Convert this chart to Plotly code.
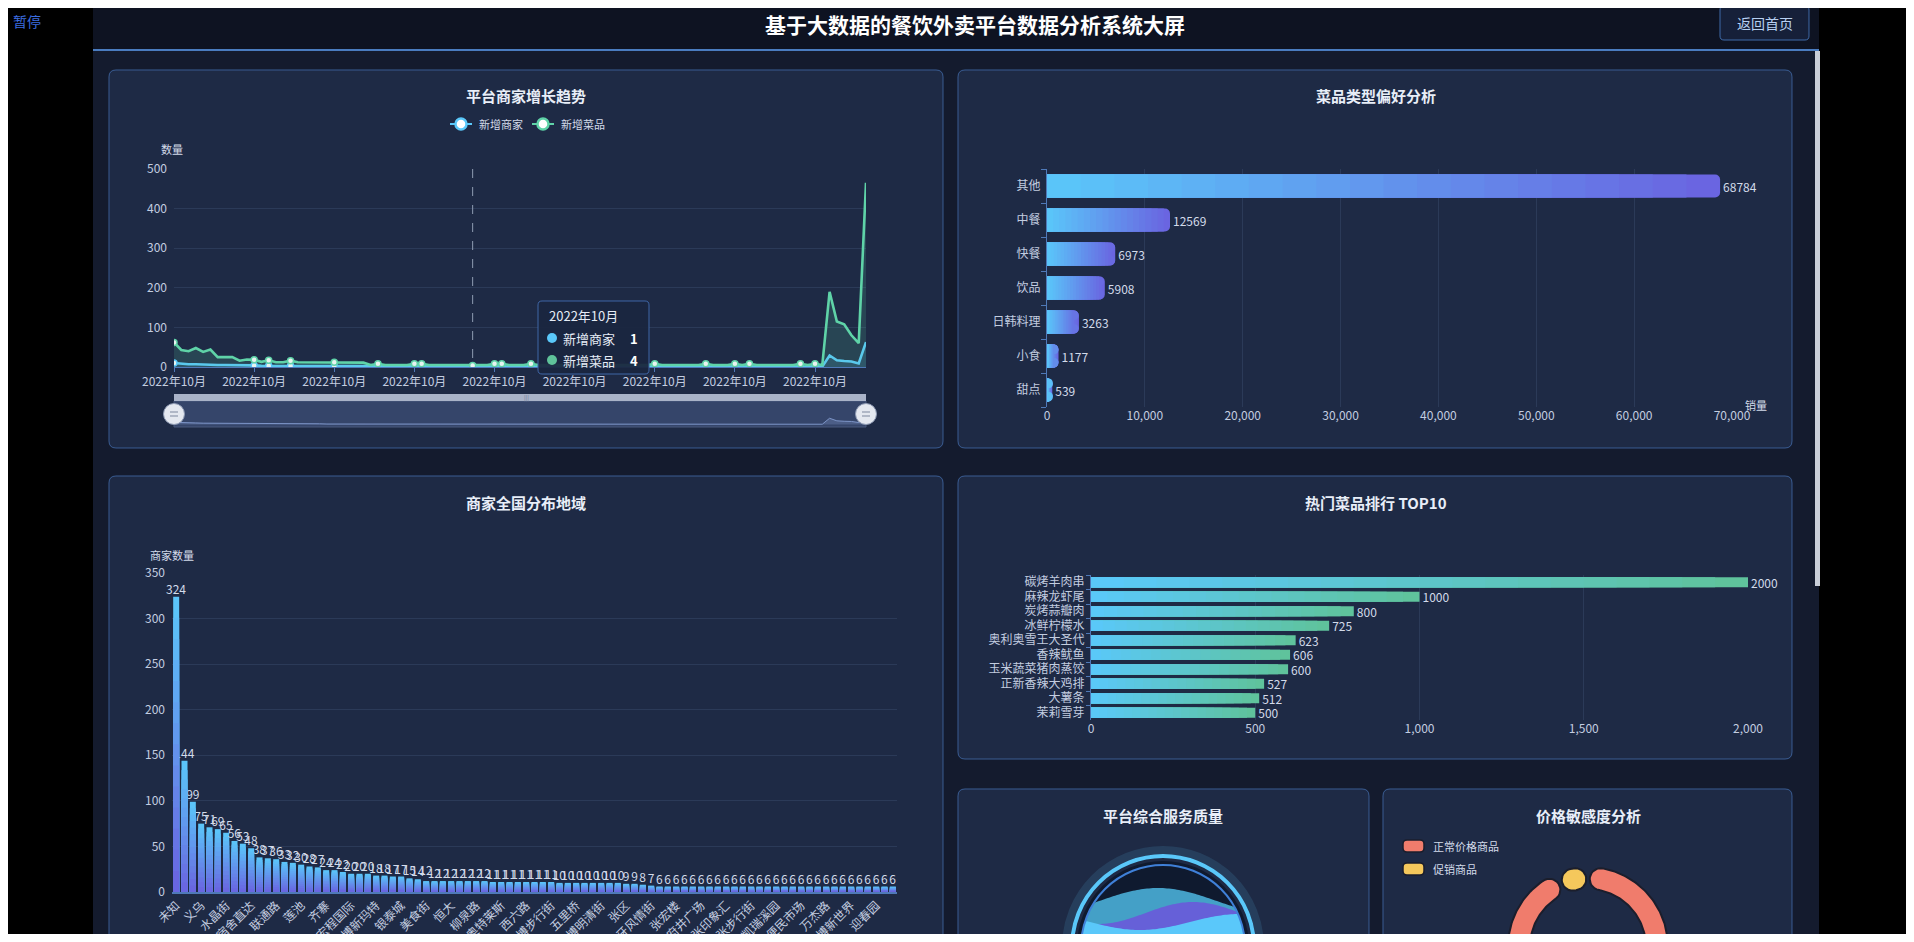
import math
import plotly.graph_objects as go

# page is drawn in 1914x942 screen pixels; the figure sits 8px in from the page corner
SCREEN_W, SCREEN_H = 1914, 942
OFF = 8
W, H = SCREEN_W - OFF, SCREEN_H - 2 * OFF
FONT = "Noto Sans CJK SC, Noto Sans, sans-serif"

# ---------------- data ----------------
page_title = "基于大数据的餐饮外卖平台数据分析系统大屏"
trend_title = "平台商家增长趋势"
trend_series = ["新增商家", "新增菜品"]
trend_tick_text = "2022年10月"
new_merchants = [10, 8, 7, 7, 6, 6, 5, 5, 5, 4, 4, 4, 3, 3, 3, 3, 3, 3, 3, 3,
                 3, 2, 2, 2, 2, 2, 2, 2, 2, 2, 2, 2, 2, 2, 2, 2, 2, 2, 1, 1,
                 1, 1, 1, 1, 1, 1, 1, 1, 1, 1, 1, 1, 1, 1, 1, 1, 1, 1, 1, 1,
                 1, 1, 1, 1, 1, 1, 1, 1, 1, 1, 1, 1, 1, 1, 1, 1, 1, 1, 1, 1,
                 1, 1, 1, 1, 1, 1, 1, 1, 1, 1, 29, 17, 15, 14, 9, 63]
new_dishes = [62, 43, 40, 48, 38, 44, 25, 25, 25, 16, 19, 18, 13, 17, 12, 12, 16, 12, 12, 12,
              12, 12, 12, 12, 12, 11, 11, 5, 8, 5, 5, 5, 5, 8, 8, 5, 5, 5, 5, 5,
              5, 4, 5, 5, 8, 8, 5, 5, 5, 8, 5, 5, 5, 5, 5, 5, 5, 5, 5, 5,
              5, 5, 5, 5, 5, 5, 8, 5, 5, 5, 5, 5, 5, 8, 5, 5, 5, 8, 5, 8,
              5, 5, 5, 5, 5, 5, 8, 5, 8, 5, 190, 115, 108, 80, 60, 465]

dishtype_title = "菜品类型偏好分析"
dishtype_cats = ["其他", "中餐", "快餐", "饮品", "日韩料理", "小食", "甜点"]
dishtype_vals = [68784, 12569, 6973, 5908, 3263, 1177, 539]

region_title = "商家全国分布地域"
region_tick_labels = ["未知", "义乌", "水晶街", "宿舍直达", "联通路", "莲池", "齐寨", "宏程国际",
                      "淄博新玛特", "银泰城", "美食街", "恒大", "柳泉路", "淄博奥特莱斯", "西六路",
                      "淄博步行街", "五里桥", "淄博明清街", "张区", "淄博西班牙风情街", "张宏楼",
                      "张店王府井广场", "张印象汇", "张步行街", "凯瑞溪园", "张店便民市场", "万杰路",
                      "淄博新世界", "迎春园"]
region_vals = [324, 144, 99, 75, 71, 69, 65, 56, 53, 48,
               38, 37, 36, 33, 32, 30, 28, 27, 24, 24,
               22, 20, 20, 20, 18, 18, 17, 17, 15, 14,
               12, 12, 12, 12, 12, 12, 12, 12, 11, 11,
               11, 11, 11, 11, 11, 11, 10, 10, 10, 10,
               10, 10, 10, 10, 9, 9, 8, 7, 6, 6,
               6, 6, 6, 6, 6, 6, 6, 6, 6, 6,
               6, 6, 6, 6, 6, 6, 6, 6, 6, 6,
               6, 6, 6, 6, 6, 6, 6]

top10_title = "热门菜品排行 TOP10"
top10_names = ["碳烤羊肉串", "麻辣龙虾尾", "炭烤蒜瓣肉", "冰鲜柠檬水", "奥利奥雪王大圣代",
               "香辣鱿鱼", "玉米蔬菜猪肉蒸饺", "正新香辣大鸡排", "大薯条", "茉莉雪芽"]
top10_vals = [2000, 1000, 800, 725, 623, 606, 600, 527, 512, 500]

service_title = "平台综合服务质量"
service_score = 4.63

price_title = "价格敏感度分析"
price_cats = ["正常价格商品", "促销商品"]
price_vals = [93.5, 6.5]

# ---------------- styling ----------------
BODY = "#141b2e"
HEADER = "#0e1322"
PANEL = "#1e2a45"
PANEL_LINE = "#3a5c92"
GRID = "#2b3a58"
AXL = "#4f79b8"
TICK = "#c3cde0"
LABEL = "#d3dbea"
BLUE = "#5ac8fa"
GREEN = "#5fd3a8"
PURPLE = "#6a62e0"
TEAL = "#5fc39a"
SALMON = "#f07c6c"
YELLOW = "#f5c85c"


def px(x):
    return (x - OFF) / W


def py(y):
    return 1 - (y - OFF) / H


def dom_x(a, b):
    return [px(a), px(b)]


def dom_y(a, b):
    return [py(b), py(a)]


def mix(c1, c2, t):
    a = [int(c1[i:i + 2], 16) for i in (1, 3, 5)]
    b = [int(c2[i:i + 2], 16) for i in (1, 3, 5)]
    return "rgb(%d,%d,%d)" % tuple(round(a[j] + (b[j] - a[j]) * t) for j in range(3))


shapes = []
annotations = []


def rect(x0, y0, x1, y1, fill, line=None, lw=0, layer="below"):
    shapes.append(dict(type="rect", xref="paper", yref="paper", x0=px(x0), x1=px(x1),
                       y0=py(y1), y1=py(y0), fillcolor=fill,
                       line=dict(color=line or fill, width=lw), layer=layer))


def rrect(x0, y0, x1, y1, r, fill, line, lw, layer="below"):
    def P(x, y):
        return f"{px(x):.5f},{py(y):.5f}"
    path = (f"M{P(x0 + r, y0)} L{P(x1 - r, y0)} Q{P(x1, y0)} {P(x1, y0 + r)} "
            f"L{P(x1, y1 - r)} Q{P(x1, y1)} {P(x1 - r, y1)} L{P(x0 + r, y1)} "
            f"Q{P(x0, y1)} {P(x0, y1 - r)} L{P(x0, y0 + r)} Q{P(x0, y0)} {P(x0 + r, y0)} Z")
    shapes.append(dict(type="path", xref="paper", yref="paper", path=path,
                       fillcolor=fill, line=dict(color=line, width=lw), layer=layer))


def circle(cx, cy, r, fill="rgba(0,0,0,0)", line="rgba(0,0,0,0)", lw=0, layer="below"):
    shapes.append(dict(type="circle", xref="paper", yref="paper", x0=px(cx - r), x1=px(cx + r),
                       y0=py(cy + r), y1=py(cy - r), fillcolor=fill,
                       line=dict(color=line, width=lw), layer=layer))


def poly_path(pts, fill, layer="below"):
    path = "M" + " L".join(f"{px(x):.5f},{py(y):.5f}" for x, y in pts) + " Z"
    shapes.append(dict(type="path", xref="paper", yref="paper", path=path,
                       fillcolor=fill, line=dict(width=0), layer=layer))


def text(x, y, s, size=12, color=TICK, bold=False, xanchor="center", yanchor="middle"):
    annotations.append(dict(xref="paper", yref="paper", x=px(x), y=py(y),
                            text=f"<b>{s}</b>" if bold else s, showarrow=False,
                            font=dict(family=FONT, size=size, color=color),
                            xanchor=xanchor, yanchor=yanchor))


# ---------------- page frame ----------------
rect(93, 0, 1819, 942, BODY)
rect(93, 0, 1819, 50, HEADER)
rect(93, 49, 1819, 51, "#4a7cc0")
rect(1815, 51, 1820, 586, "#c9ced8")
text(975, 24, page_title, size=21, color="#ffffff", bold=True)
rrect(1720, 6, 1809, 40, 4, "#162039", "#3f6aa8", 1)
text(1765, 23, "返回首页", size=14, color="#b7d0f2")
text(27, 21, "暂停", size=14, color="#3c6ee0")

panels = [(109, 70, 943, 448), (958, 70, 1792, 448), (109, 476, 943, 1100),
          (958, 476, 1792, 759), (958, 789, 1369, 1100), (1383, 789, 1792, 1100)]
for (a, b, c, d) in panels:
    rrect(a, b, c, d, 7, PANEL, PANEL_LINE, 1)

text(526, 95, trend_title, size=15, color="#e8eef8", bold=True)
text(1376, 95, dishtype_title, size=15, color="#e8eef8", bold=True)
text(526, 502, region_title, size=15, color="#e8eef8", bold=True)
text(1376, 502, top10_title, size=15, color="#e8eef8", bold=True)
text(1163, 815, service_title, size=15, color="#e8eef8", bold=True)
text(1588, 815, price_title, size=15, color="#e8eef8", bold=True)

fig = go.Figure()
tickfont = dict(family=FONT, size=12, color=TICK)

# ---------------- panel 1: line chart ----------------
n_pts = len(new_dishes)
xs = list(range(n_pts))
series_cols = [BLUE, GREEN]
series_fill = ["rgba(90,200,250,0.14)", "rgba(95,211,168,0.16)"]
for name, vals, col, fcol in zip(trend_series, [new_merchants, new_dishes], series_cols, series_fill):
    fig.add_trace(go.Scatter(x=xs, y=vals, mode="lines", name=name,
                             line=dict(color=col, width=2.6), fill="tozeroy", fillcolor=fcol,
                             xaxis="x", yaxis="y", hoverinfo="skip"))
marker_idx = [0, 11, 13, 16, 22, 28, 33, 34, 41, 44, 45, 49, 66, 73, 77, 79, 86, 88]
for vals, col in zip([new_merchants, new_dishes], series_cols):
    fig.add_trace(go.Scatter(x=marker_idx, y=[vals[i] for i in marker_idx], mode="markers",
                             marker=dict(size=6, color="#e8f4f0", line=dict(color=col, width=1.5)),
                             xaxis="x", yaxis="y", hoverinfo="skip", showlegend=False))
tick_pos = list(range(0, n_pts, 11))

# legend (manual)
for (ix, tx, name, col) in [(461, 477, trend_series[0], BLUE), (543, 559, trend_series[1], GREEN)]:
    shapes.append(dict(type="line", xref="paper", yref="paper", x0=px(ix - 11), x1=px(ix + 11),
                       y0=py(124), y1=py(124), line=dict(color=col, width=2), layer="above"))
    circle(ix, 124, 5.5, fill="#ffffff", line=col, lw=2.5, layer="above")
    text(tx, 124, name, size=11, color=LABEL, xanchor="left")
text(172, 149, "数量", size=11, color=LABEL)

# axis pointer + tooltip
hover_i = 41
hx = 174 + hover_i * (866 - 174) / (n_pts - 1)
shapes.append(dict(type="line", xref="paper", yref="paper", x0=px(hx), x1=px(hx),
                   y0=py(169), y1=py(367), line=dict(color="#8f9bb3", width=1, dash="dash"),
                   layer="above"))
rrect(538, 301, 649, 374, 4, "rgba(27,38,64,0.94)", "#3f66a6", 1, layer="above")
text(547, 316, trend_tick_text, size=13, color="#e6ecf6", xanchor="left")
circle(552, 338, 5, fill=BLUE, layer="above")
circle(552, 360, 5, fill=TEAL, layer="above")
text(561, 338, trend_series[0], size=13, color="#e6ecf6", xanchor="left")
text(561, 360, trend_series[1], size=13, color="#e6ecf6", xanchor="left")
text(640, 338, str(new_merchants[hover_i]), size=13, color="#ffffff", bold=True, xanchor="right")
text(640, 360, str(new_dishes[hover_i]), size=13, color="#ffffff", bold=True, xanchor="right")

# data-zoom slider
rect(174, 401, 866, 427, "#35456a", "#4a5b7e", 1)
rect(174, 394, 866, 401, "#a9b3c8")
text(526, 397, "|||", size=6, color="#6d7a96")
fig.add_trace(go.Scatter(x=xs, y=new_merchants, mode="lines", line=dict(color="#7d95c8", width=1),
                         fill="tozeroy", fillcolor="rgba(120,140,190,0.35)",
                         xaxis="x5", yaxis="y5", hoverinfo="skip", showlegend=False))
for hxp in (174, 866):
    circle(hxp, 414, 10.5, fill="#e4e8f0", line="#8d99b3", lw=1, layer="above")
    for dy in (-2, 2):
        shapes.append(dict(type="line", xref="paper", yref="paper", x0=px(hxp - 4), x1=px(hxp + 4),
                           y0=py(414 + dy), y1=py(414 + dy), line=dict(color="#7c879e", width=1),
                           layer="above"))

# ---------------- gradient bars helper ----------------
def gradient_bars(vals, cats, c_base, c_end, n, axes, orientation, width, radius=0,
                  label_vals=None):
    for k in range(n):
        frac = (n - k) / n
        col = mix(c_base, c_end, frac - 0.5 / n)
        seg = [v * frac for v in vals]
        kw = dict(marker=dict(color=col, line=dict(width=0), cornerradius=radius),
                  width=width, orientation=orientation, xaxis=axes[0], yaxis=axes[1],
                  hoverinfo="skip", showlegend=False)
        if k == 0 and label_vals is not None:
            kw.update(text=[str(v) for v in label_vals], textposition="outside",
                      textfont=dict(family=FONT, size=12, color=LABEL),
                      constraintext="none", cliponaxis=False)
        if orientation == "h":
            fig.add_trace(go.Bar(x=seg, y=cats, **kw))
        else:
            fig.add_trace(go.Bar(x=cats, y=seg, **kw))


# ---------------- panel 2 ----------------
gradient_bars(dishtype_vals, dishtype_cats, BLUE, PURPLE, 20, ("x2", "y2"), "h", 0.68,
              radius=5, label_vals=dishtype_vals)
text(1756, 405, "销量", size=11, color=LABEL)

# ---------------- panel 3 ----------------
region_x = list(range(len(region_vals)))
gradient_bars(region_vals, region_x, PURPLE, BLUE, 14, ("x3", "y3"), "v", 0.72,
              label_vals=region_vals)
text(172, 555, "商家数量", size=11, color=LABEL)

# ---------------- panel 4 ----------------
gradient_bars(top10_vals, top10_names, BLUE, TEAL, 20, ("x4", "y4"), "h", 0.7,
              label_vals=top10_vals)

# ---------------- panel 5: liquid gauge ----------------
gcx, gcy = 1163, 947
circle(gcx, gcy, 97, line="rgba(90,200,250,0.13)", lw=8)
circle(gcx, gcy, 86, fill="#0f1a2f")
ri = 82


def wave_shape(level, amp, wl, phase_x, fill):
    pts_top, pts_bot = [], []
    x = gcx - ri
    while x <= gcx + ri + 0.01:
        dx = x - gcx
        h = math.sqrt(max(ri * ri - dx * dx, 0))
        yw = level - amp * math.cos(2 * math.pi * (x - phase_x) / wl)
        pts_top.append((x, max(yw, gcy - h)))
        pts_bot.append((x, gcy + h))
        x += 2
    poly_path(pts_top + pts_bot[::-1], fill)


wave_shape(901, 13, 235, 1158, "rgba(72,168,208,0.95)")
wave_shape(913, 11, 190, 1193, "#6660d8")
wave_shape(922, -8, 200, 1140, BLUE)
circle(gcx, gcy, ri, line="#3f80d8", lw=2)
circle(gcx, gcy, 91, line=BLUE, lw=4)
text(gcx, 953, f"{service_score}分", size=38, color="#ffffff", bold=True)

# ---------------- panel 6: donut ----------------
dcx, dcy, R_out, R_in = 1588, 947, 80, 58
pad = 3.0


def ring_slice(a_start, a_end):
    rm = (R_out + R_in) / 2
    c = (R_out - R_in) / 2
    ext = a_start - a_end
    d = min(math.degrees(c / rm), ext / 2)
    b = rm * math.radians(d)
    s, e = a_start - d, a_end + d
    xs_, ys_ = [], []
    n = max(2, int((s - e) / 1.5))
    for k in range(n + 1):
        a = math.radians(s - (s - e) * k / n)
        xs_.append(dcx + R_out * math.cos(a))
        ys_.append(dcy - R_out * math.sin(a))
    a = math.radians(e)
    u = (math.cos(a), -math.sin(a))
    t = (math.sin(a), math.cos(a))
    cxp, cyp = dcx + rm * u[0], dcy + rm * u[1]
    for k in range(1, 16):
        p = math.pi * k / 16
        xs_.append(cxp + c * math.cos(p) * u[0] + b * math.sin(p) * t[0])
        ys_.append(cyp + c * math.cos(p) * u[1] + b * math.sin(p) * t[1])
    for k in range(n + 1):
        a = math.radians(e + (s - e) * k / n)
        xs_.append(dcx + R_in * math.cos(a))
        ys_.append(dcy - R_in * math.sin(a))
    a = math.radians(s)
    u = (math.cos(a), -math.sin(a))
    t = (math.sin(a), math.cos(a))
    cxp, cyp = dcx + rm * u[0], dcy + rm * u[1]
    for k in range(1, 16):
        p = math.pi * k / 16
        xs_.append(cxp - c * math.cos(p) * u[0] - b * math.sin(p) * t[0])
        ys_.append(cyp - c * math.cos(p) * u[1] - b * math.sin(p) * t[1])
    xs_.append(xs_[0])
    ys_.append(ys_[0])
    return xs_, ys_


total = sum(price_vals)
cum = 0.0
for name, v, col in zip(price_cats, price_vals, [SALMON, YELLOW]):
    a0 = 90 - 360 * cum / total - pad / 2
    a1 = 90 - 360 * (cum + v) / total + pad / 2
    sx, sy = ring_slice(a0, a1)
    fig.add_trace(go.Scatter(x=sx, y=sy, mode="lines", fill="toself", fillcolor=col,
                             line=dict(color="#1b1e2c", width=2), name=name,
                             xaxis="x6", yaxis="y6", hoverinfo="skip", showlegend=False))
    cum += v

for (yy, name, col) in [(846, price_cats[0], SALMON), (869, price_cats[1], YELLOW)]:
    rrect(1403, yy - 6, 1424, yy + 6, 4, col, "#1b1e2c", 1.5, layer="above")
    text(1431, yy, name, size=11, color=LABEL, xanchor="left")

# ---------------- layout ----------------
base_ax = dict(showgrid=False, zeroline=False, showline=False, ticks="", tickfont=tickfont,
               fixedrange=True, automargin=False)

layout = dict(
    template="none",
    width=W, height=H, margin=dict(l=0, r=0, t=0, b=0, pad=0), autosize=False,
    paper_bgcolor="#000000", plot_bgcolor="rgba(0,0,0,0)", showlegend=False,
    barmode="overlay", shapes=shapes, annotations=annotations, hovermode=False,
    font=dict(family=FONT),
    xaxis=dict(base_ax, domain=dom_x(174, 866), range=[0, n_pts - 1], anchor="y",
               tickmode="array", tickvals=tick_pos, ticktext=[trend_tick_text] * len(tick_pos),
               showline=True, linecolor=AXL, linewidth=1, ticks="outside", ticklen=4,
               tickcolor=AXL),
    yaxis=dict(base_ax, domain=dom_y(169, 367), range=[0, 500], dtick=100, anchor="x",
               showgrid=True, gridcolor=GRID, ticklabelstandoff=6),
    xaxis2=dict(base_ax, domain=dom_x(1047, 1732), range=[0, 70000], dtick=10000,
                tickformat=",", anchor="y2", showgrid=True, gridcolor=GRID),
    yaxis2=dict(base_ax, domain=dom_y(169, 407), type="category", autorange="reversed",
                anchor="x2", showline=True, linecolor=AXL, ticks="outside", ticklen=5,
                tickcolor=AXL, tickson="boundaries", ticklabelstandoff=3,
                tickmode="array", tickvals=dishtype_cats),
    xaxis3=dict(base_ax, domain=dom_x(172, 897), range=[-0.5, len(region_vals) - 0.5],
                anchor="y3", tickmode="array", tickvals=list(range(0, len(region_vals), 3)),
                ticktext=region_tick_labels, tickangle=-45, showline=True, linecolor=AXL,
                linewidth=1.5),
    yaxis3=dict(base_ax, domain=dom_y(573, 892), range=[0, 350], dtick=50, anchor="x3",
                showgrid=True, gridcolor=GRID, ticklabelstandoff=6),
    xaxis4=dict(base_ax, domain=dom_x(1091, 1748), range=[0, 2000], dtick=500,
                tickformat=",", anchor="y4", showgrid=True, gridcolor=GRID),
    yaxis4=dict(base_ax, domain=dom_y(575, 720), type="category", autorange="reversed",
                anchor="x4", showline=True, linecolor=AXL, ticks="outside", ticklen=4,
                tickcolor=AXL, tickson="boundaries", ticklabelstandoff=3,
                tickmode="array", tickvals=top10_names),
    xaxis5=dict(base_ax, domain=dom_x(174, 866), range=[0, n_pts - 1], anchor="y5",
                showticklabels=False),
    yaxis5=dict(base_ax, domain=dom_y(401, 427), range=[-12, 110], anchor="x5",
                showticklabels=False),
    xaxis6=dict(base_ax, domain=dom_x(1383, 1792), range=[1383, 1792], anchor="y6",
                visible=False),
    yaxis6=dict(base_ax, domain=[0, py(789)], range=[OFF + H, 789], anchor="x6",
                visible=False),
)
fig.update_layout(**layout)
fig.write_html("out.html")
